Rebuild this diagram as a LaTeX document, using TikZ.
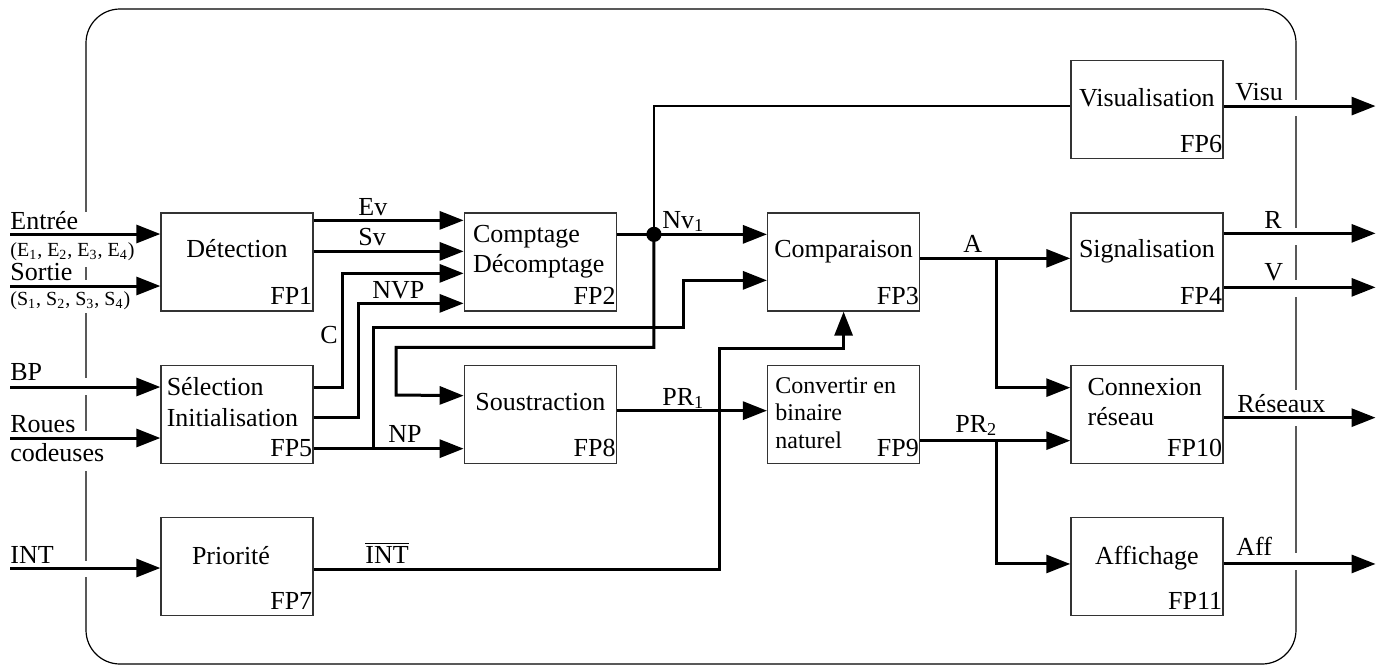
\documentclass[tikz,border=0pt]{standalone}
\usepackage{fontspec}
\setmainfont{Liberation Serif}
\usetikzlibrary{arrows.meta,calc,positioning}

\newcommand{\fontbloc}{\fontsize{13}{15}\selectfont}
\newcommand{\fontpetit}{\fontsize{10}{12}\selectfont}
\newcommand{\fontconv}{\fontsize{12}{14}\selectfont}

\begin{document}
\begin{tikzpicture}[x=0.5pt,y=-0.5pt,node distance=26.5pt and 75pt,
    bloc/.style={draw=black!80,line width=0.65pt,minimum width=76pt,minimum height=49pt,inner sep=0pt},
    lbl/.style={anchor=base west,inner sep=0pt,font=\fontbloc},
    ttl/.style={anchor=base,inner sep=0pt,font=\fontbloc},
    fp/.style={anchor=base east,inner sep=0pt,font=\fontbloc},
    fil/.style={line width=1.5pt},
    fl/.style={fil,-{Triangle[length=12pt,width=9pt]}}]
  \useasboundingbox (0,0) rectangle (1378,666);

  % cadre
  \draw[line width=0.6pt,rounded corners=17pt] (86,9) rectangle (1296,664);
  \foreach \ya/\yb in {212/267,280/313,378/395,431/471,561/577}
    \fill[white] (80,\ya) rectangle (92,\yb);
  \foreach \ya/\yb in {100/116,228/245,280/297,390/426,553/570}
    \fill[white] (1290,\ya) rectangle (1302,\yb);

  % blocs
  \node[bloc] (det) at (237,262) {};
  \node[bloc,right=of det] (cpt) {};
  \node[bloc,right=of cpt] (cmp) {};
  \node[bloc,right=of cmp] (sig) {};
  \node[bloc,above=of sig] (vis) {};
  \node[bloc,below=of det] (sel) {};
  \node[bloc,below=of cpt] (sou) {};
  \node[bloc,below=of cmp] (cnv) {};
  \node[bloc,below=of sig] (res) {};
  \node[bloc,below=of sel] (pri) {};
  \node[bloc,below=of res] (aff) {};

  \foreach \b/\n in {det/1,cpt/2,cmp/3,sig/4,sel/5,vis/6,pri/7,sou/8,cnv/9,res/10,aff/11}
    \node[fp] (fp\n) at ($(\b.south east)+(-1,-7)$) {FP\n};

  \node[ttl] (tdet) at ($(det.north)+(0,45)$) {Détection};
  \node[ttl] (tcmp) at ($(cmp.north)+(0,45)$) {Comparaison};
  \node[ttl] (tsig) at ($(sig.north)+(0,45)$) {Signalisation};
  \node[ttl] (tvis) at ($(vis.north)+(0,46)$) {Visualisation};
  \node[ttl] (tsou) at ($(sou.north)+(0,46)$) {Soustraction};
  \node[ttl] (tpri) at ($(pri.north)+(-6,48)$) {Priorité};
  \node[ttl] (taff) at ($(aff.north)+(0,48)$) {Affichage};
  \node[lbl] (tcpt1) at ($(cpt.north west)+(9,30)$) {Comptage};
  \node[lbl] (tcpt2) at ($(cpt.north west)+(9,60)$) {Décomptage};
  \node[lbl] (tsel1) at ($(sel.north west)+(6,31)$) {Sélection};
  \node[lbl] (tsel2) at ($(sel.north west)+(6,62)$) {Initialisation};
  \node[lbl] (tres1) at ($(res.north west)+(17,31)$) {Connexion};
  \node[lbl] (tres2) at ($(res.north west)+(17,61)$) {réseau};
  \node[lbl,font=\fontconv] (tcnv1) at ($(cnv.north west)+(8,29)$) {Convertir en};
  \node[lbl,font=\fontconv] (tcnv2) at ($(cnv.north west)+(8,56)$) {binaire};
  \node[lbl,font=\fontconv] (tcnv3) at ($(cnv.north west)+(8,84)$) {naturel};

  % entrees
  \coordinate (inE) at (10,234);
  \coordinate (inS) at (10,286);
  \coordinate (inBP) at (10,387);
  \coordinate (inRC) at (10,438);
  \coordinate (inINT) at (10,568);
  \draw[fl] (inE) -- (inE -| det.west);
  \draw[fl] (inS) -- (inS -| det.west);
  \draw[fl] (inBP) -- (inBP -| sel.west);
  \draw[fl] (inRC) -- (inRC -| sel.west);
  \draw[fl] (inINT) -- (inINT -| pri.west);
  \node[lbl] (lE) at (10,229) {Entrée};
  \node[lbl,font=\fontpetit] (lE2) at (10,256) {(E\textsubscript{1}, E\textsubscript{2}, E\textsubscript{3}, E\textsubscript{4})};
  \node[lbl] (lS) at (10,280) {Sortie};
  \node[lbl,font=\fontpetit] (lS2) at (10,305) {(S\textsubscript{1}, S\textsubscript{2}, S\textsubscript{3}, S\textsubscript{4})};
  \node[lbl] (lBP) at (10,380) {BP};
  \node[lbl] (lRC1) at (10,432) {Roues};
  \node[lbl] (lRC2) at (10,461) {codeuses};
  \node[lbl] (lINT) at (10,563) {INT};

  % liaisons
  \draw[fl] ($(det.north east)+(0,8)$) -- ($(cpt.north west)+(0,8)$);
  \draw[fl] ($(det.north east)+(0,39)$) -- ($(cpt.north west)+(0,39)$);
  \draw[fl] ($(sel.north east)+(0,23)$) -- ++(29,0) |- ($(cpt.north west)+(0,61)$);
  \draw[fl] ($(sel.north east)+(0,53)$) -- ++(45,0) |- ($(cpt.north west)+(0,91)$);
  \draw[fl] ($(sel.north east)+(0,84)$) -- ($(sou.north west)+(0,84)$);
  \coordinate (np) at ($(sel.north east)+(60,84)$);
  \draw[fl] (np) |- (683,327) |- ($(cmp.north west)+(0,68)$);
  \coordinate (nv) at ($(cpt.north east)+(37,22)$);
  \draw[fl] ($(cpt.north east)+(0,22)$) -- ($(cmp.north west)+(0,22)$);
  \draw[line width=1.2pt] (nv) |- ($(vis.north west)+(0,46)$);
  \draw[fl] (nv) -- ++(0,113) -| (396,395) -- ($(sou.north west)+(0,31)$);
  \fill (nv) circle (3.8pt);
  \draw[fl] ($(pri.north east)+(0,53)$) -| (719,348) -| (cmp.south);
  \draw[fl] ($(sou.north east)+(0,46)$) -- ($(cnv.north west)+(0,46)$);
  \draw[fl] ($(cmp.north east)+(0,46)$) -- ($(sig.north west)+(0,46)$);
  \coordinate (ja) at ($(cmp.north east)+(76,46)$);
  \draw[fl] (ja) |- ($(res.north west)+(0,23)$);
  \draw[fl] ($(cnv.north east)+(0,76)$) -- ($(res.north west)+(0,76)$);
  \coordinate (jp) at ($(cnv.north east)+(76,76)$);
  \draw[fl] (jp) |- ($(aff.north west)+(0,47)$);

  % sorties
  \draw[fl] ($(vis.north east)+(0,46)$) -- ++(152,0);
  \draw[fl] ($(sig.north east)+(0,21)$) -- ++(152,0);
  \draw[fl] ($(sig.north east)+(0,75)$) -- ++(152,0);
  \draw[fl] ($(res.north east)+(0,53)$) -- ++(152,0);
  \draw[fl] ($(aff.north east)+(0,47)$) -- ++(152,0);

  \node[lbl] (lEv) at (358,215) {Ev};
  \node[lbl] (lSv) at (358,245) {Sv};
  \node[lbl] (lC) at (320,343) {C};
  \node[lbl] (lNVP) at (372,298) {NVP};
  \node[lbl] (lNP) at (388,442) {NP};
  \node[lbl] (lNv) at (662,228) {Nv\textsubscript{1}};
  \node[lbl] (lPR1) at (662,405) {PR\textsubscript{1}};
  \node[lbl] (lA) at (963,252) {A};
  \node[lbl] (lPR2) at (955,432) {PR\textsubscript{2}};
  \node[lbl] (lVisu) at (1235,100) {Visu};
  \node[lbl] (lRouge) at (1264,228) {R};
  \node[lbl] (lVert) at (1264,280) {V};
  \node[lbl] (lRes) at (1237,412) {Réseaux};
  \node[lbl] (lAff) at (1236,555) {Aff};
  \node[lbl] (lINTb) at (365,563) {$\overline{\mbox{INT}}$};
\end{tikzpicture}
\end{document}
